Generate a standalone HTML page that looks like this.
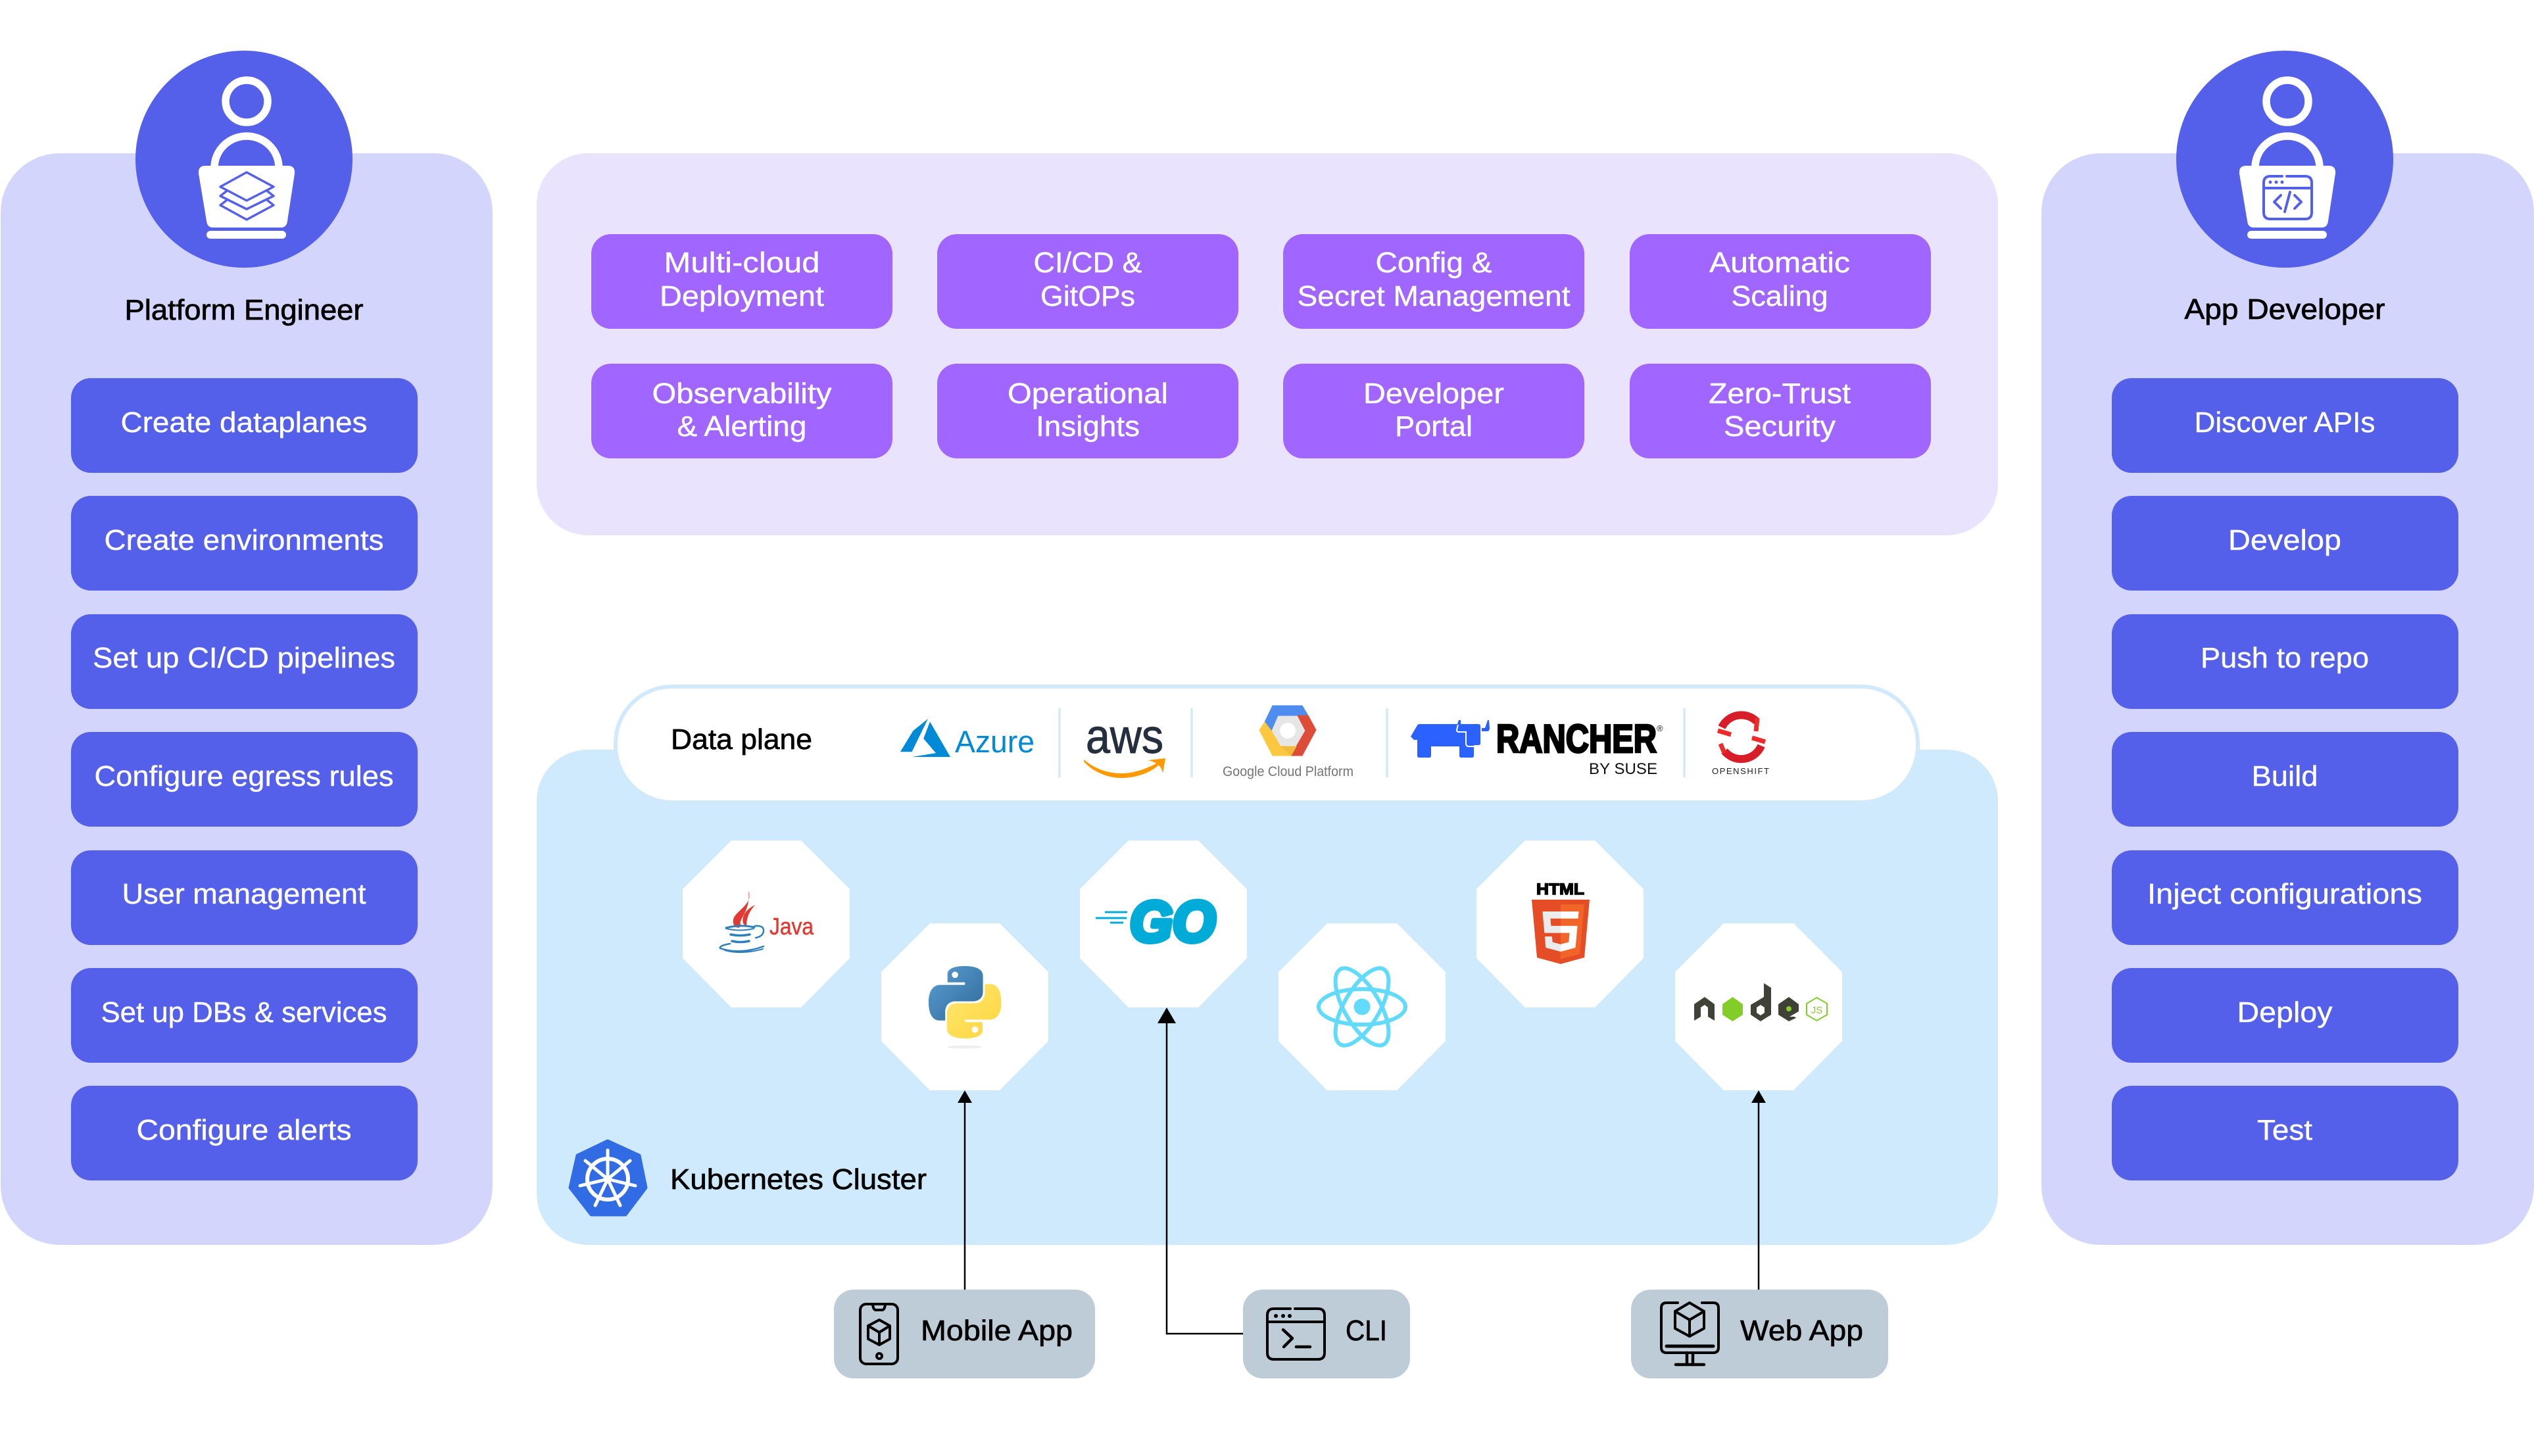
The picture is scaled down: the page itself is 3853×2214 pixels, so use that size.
<!DOCTYPE html>
<html lang="en"><head><meta charset="utf-8"><title>Platform diagram</title>
<style>html,body{margin:0;padding:0;background:#fff}svg{display:block}text{font-family:"Liberation Sans",sans-serif}</style></head>
<body>
<svg xmlns="http://www.w3.org/2000/svg" width="3853" height="2214" viewBox="0 0 3853 2214">
<defs>
<linearGradient id="pb" x1="0" y1="0" x2="1" y2="1"><stop offset="0" stop-color="#5a9fd4"/><stop offset="1" stop-color="#306998"/></linearGradient>
<linearGradient id="py" x1="1" y1="1" x2="0" y2="0"><stop offset="0" stop-color="#ffd43b"/><stop offset="1" stop-color="#ffe873"/></linearGradient>
</defs>
<rect width="3853" height="2214" fill="#fff"/>

<!-- panels -->
<rect x="1" y="233" width="748" height="1660" rx="90" fill="#d4d5fd"/>
<rect x="3104" y="233" width="749" height="1660" rx="90" fill="#d4d5fd"/>
<rect x="816" y="233" width="2222" height="581" rx="78" fill="#eae3fd"/>
<rect x="816" y="1140" width="2222" height="753" rx="78" fill="#cfe9fd"/>

<!-- persona circles -->
<circle cx="371" cy="242" r="165" fill="#5560ea"/>
<circle cx="3474" cy="242" r="165" fill="#5560ea"/>
<g fill="none" stroke="#fff" stroke-width="11.5">
<circle cx="375" cy="154" r="32"/><path d="M326 256V255A49 48 0 0 1 424 255V256"/>
<circle cx="3478" cy="154" r="32"/><path d="M3429 256V255A49 48 0 0 1 3527 255V256"/>
</g>
<g fill="#fff">
<path d="M312 252H438Q449 252 448 264L437 336Q436 346 427 346H324Q315 346 314 336L302 264Q301 252 312 252Z"/>
<rect x="314" y="351" width="121" height="12" rx="6"/>
<path d="M3415 252H3541Q3552 252 3551 264L3540 336Q3539 346 3530 346H3427Q3418 346 3417 336L3405 264Q3404 252 3415 252Z"/>
<rect x="3417" y="351" width="121" height="12" rx="6"/>
</g>
<g fill="none" stroke="#5560ea" stroke-width="3.5" stroke-linejoin="round" stroke-linecap="round">
<path d="M375 262L416 284L375 305L335 284Z"/>
<path d="M344 291L335 298L375 318L416 298L407 291"/>
<path d="M344 305L335 312L375 334L416 312L407 305"/>
</g>
<g fill="none" stroke="#5560ea" stroke-width="4" stroke-linecap="round" stroke-linejoin="round">
<path d="M3470 268H3452Q3442 268 3442 278V323Q3442 333 3452 333H3505Q3515 333 3515 323V278Q3515 268 3505 268H3477"/>
<path d="M3442 286H3515"/>
<path d="M3468 297L3458 307L3468 317M3489 297L3499 307L3489 317M3482 292L3474 322"/>
</g>
<g fill="#5560ea"><circle cx="3452" cy="277" r="2.5"/><circle cx="3461" cy="277" r="2.5"/><circle cx="3470" cy="277" r="2.5"/></g>

<!-- headings -->
<g font-size="44" fill="#000" stroke="#000" stroke-width=".8" text-anchor="middle">
<text x="371" y="486" textLength="363" lengthAdjust="spacingAndGlyphs">Platform Engineer</text>
<text x="3474" y="485" textLength="305" lengthAdjust="spacingAndGlyphs">App Developer</text>
</g>

<!-- persona buttons -->
<g fill="#5560ea">
<rect x="108" y="575" width="527" height="144" rx="30"/><rect x="108" y="754" width="527" height="144" rx="30"/><rect x="108" y="934" width="527" height="144" rx="30"/><rect x="108" y="1113" width="527" height="144" rx="30"/><rect x="108" y="1293" width="527" height="144" rx="30"/><rect x="108" y="1472" width="527" height="144" rx="30"/><rect x="108" y="1651" width="527" height="144" rx="30"/>
<rect x="3211" y="575" width="527" height="144" rx="30"/><rect x="3211" y="754" width="527" height="144" rx="30"/><rect x="3211" y="934" width="527" height="144" rx="30"/><rect x="3211" y="1113" width="527" height="144" rx="30"/><rect x="3211" y="1293" width="527" height="144" rx="30"/><rect x="3211" y="1472" width="527" height="144" rx="30"/><rect x="3211" y="1651" width="527" height="144" rx="30"/>
</g>
<g font-size="44" fill="#fff" stroke="#fff" stroke-width=".4" text-anchor="middle">
<text x="371" y="657" textLength="375" lengthAdjust="spacingAndGlyphs">Create dataplanes</text>
<text x="371" y="836" textLength="425" lengthAdjust="spacingAndGlyphs">Create environments</text>
<text x="371" y="1015" textLength="460" lengthAdjust="spacingAndGlyphs">Set up CI/CD pipelines</text>
<text x="371" y="1195" textLength="455" lengthAdjust="spacingAndGlyphs">Configure egress rules</text>
<text x="371" y="1374" textLength="371" lengthAdjust="spacingAndGlyphs">User management</text>
<text x="371" y="1554" textLength="435" lengthAdjust="spacingAndGlyphs">Set up DBs &amp; services</text>
<text x="371" y="1733" textLength="327" lengthAdjust="spacingAndGlyphs">Configure alerts</text>
<text x="3474" y="657" textLength="275" lengthAdjust="spacingAndGlyphs">Discover APIs</text>
<text x="3474" y="836" textLength="172" lengthAdjust="spacingAndGlyphs">Develop</text>
<text x="3474" y="1015" textLength="256" lengthAdjust="spacingAndGlyphs">Push to repo</text>
<text x="3474" y="1195" textLength="101" lengthAdjust="spacingAndGlyphs">Build</text>
<text x="3474" y="1374" textLength="418" lengthAdjust="spacingAndGlyphs">Inject configurations</text>
<text x="3474" y="1554" textLength="145" lengthAdjust="spacingAndGlyphs">Deploy</text>
<text x="3474" y="1733" textLength="84" lengthAdjust="spacingAndGlyphs">Test</text>
</g>

<!-- feature buttons -->
<g fill="#a066ff">
<rect x="899" y="356" width="458" height="144" rx="30"/><rect x="1425" y="356" width="458" height="144" rx="30"/><rect x="1951" y="356" width="458" height="144" rx="30"/><rect x="2478" y="356" width="458" height="144" rx="30"/>
<rect x="899" y="553" width="458" height="144" rx="30"/><rect x="1425" y="553" width="458" height="144" rx="30"/><rect x="1951" y="553" width="458" height="144" rx="30"/><rect x="2478" y="553" width="458" height="144" rx="30"/>
</g>
<g font-size="44" fill="#fff" stroke="#fff" stroke-width=".4" text-anchor="middle">
<text x="1128" y="414" textLength="237" lengthAdjust="spacingAndGlyphs">Multi-cloud</text>
<text x="1128" y="465" textLength="250" lengthAdjust="spacingAndGlyphs">Deployment</text>
<text x="1654" y="414" textLength="165" lengthAdjust="spacingAndGlyphs">CI/CD &amp;</text>
<text x="1654" y="465" textLength="144" lengthAdjust="spacingAndGlyphs">GitOPs</text>
<text x="2180" y="414" textLength="177" lengthAdjust="spacingAndGlyphs">Config &amp;</text>
<text x="2180" y="465" textLength="415" lengthAdjust="spacingAndGlyphs">Secret Management</text>
<text x="2706" y="414" textLength="214" lengthAdjust="spacingAndGlyphs">Automatic</text>
<text x="2706" y="465" textLength="147" lengthAdjust="spacingAndGlyphs">Scaling</text>
<text x="1128" y="613" textLength="273" lengthAdjust="spacingAndGlyphs">Observability</text>
<text x="1128" y="663" textLength="197" lengthAdjust="spacingAndGlyphs">&amp; Alerting</text>
<text x="1654" y="613" textLength="244" lengthAdjust="spacingAndGlyphs">Operational</text>
<text x="1654" y="663" textLength="158" lengthAdjust="spacingAndGlyphs">Insights</text>
<text x="2180" y="613" textLength="214" lengthAdjust="spacingAndGlyphs">Developer</text>
<text x="2180" y="663" textLength="118" lengthAdjust="spacingAndGlyphs">Portal</text>
<text x="2706" y="613" textLength="216" lengthAdjust="spacingAndGlyphs">Zero-Trust</text>
<text x="2706" y="663" textLength="170" lengthAdjust="spacingAndGlyphs">Security</text>
</g>

<!-- data plane pill -->
<rect x="936" y="1044" width="1980" height="176" rx="86" fill="#fff" stroke="#d0e9fd" stroke-width="6"/>
<text x="1020" y="1139" font-size="44" fill="#000" stroke="#000" stroke-width=".7" textLength="215" lengthAdjust="spacingAndGlyphs">Data plane</text>
<g stroke="#d4eafc" stroke-width="3.5"><path d="M1611 1077V1182M1812 1077V1182M2109 1077V1182M2561 1077V1182"/></g>

<!-- azure -->
<path transform="translate(1366 1093) scale(.975 .913)" fill="#0089d6" d="M46.09 0L22.96 20.05L3 55.07H21ZM49.2 4.74L39.2 32.96L58.38 57.06L21.17 63.46H81Z"/>
<text x="1452" y="1144" font-size="47" fill="#0089d6" textLength="121" lengthAdjust="spacingAndGlyphs">Azure</text>

<!-- aws -->
<text x="1651" y="1145" font-size="73" fill="#252f3e" stroke="#252f3e" stroke-width="1" textLength="118" lengthAdjust="spacingAndGlyphs">aws</text>
<path d="M1648 1155C1668 1172 1690 1176 1706 1176C1725 1176 1745 1168 1760 1160L1761 1164C1748 1176 1725 1183 1706 1183C1685 1183 1662 1174 1648 1158Z" fill="#ff9900"/>
<path d="M1746 1156L1772 1153L1768 1176C1766 1165 1760 1160 1746 1156Z" fill="#ff9900"/>

<!-- gcp -->
<polygon points="1943,1088 1973,1088 1985,1111 1971,1135 1947,1135 1933,1111" fill="#e6e6e6"/>
<polygon points="1935,1073 1980,1073 1989,1088 1943,1088 1933,1111 1923,1098" fill="#4f8cef" stroke="#4f8cef" stroke-width="1" stroke-linejoin="round"/>
<polygon points="1973,1088 1989,1088 2001,1110 1980,1149 1963,1149 1971,1135 1985,1111" fill="#dd4b39" stroke="#dd4b39" stroke-width="1" stroke-linejoin="round"/>
<polygon points="1923,1098 1933,1111 1947,1135 1971,1135 1963,1149 1935,1149 1915,1110" fill="#fdc73f" stroke="#fdc73f" stroke-width="1" stroke-linejoin="round"/>
<polygon points="1947,1135 1971,1135 1963,1149" fill="#f0bb3c"/>
<circle cx="1958" cy="1111" r="12" fill="#fff"/>
<text x="1859" y="1180" font-size="21" fill="#757575" textLength="199" lengthAdjust="spacingAndGlyphs">Google Cloud Platform</text>

<!-- rancher -->
<path d="M2145 1120L2155 1103Q2156 1101 2158 1101H2216L2218 1095H2221V1101H2248Q2251 1101 2251 1104V1130Q2251 1133 2248 1133H2241V1149Q2241 1152 2238 1152H2222Q2219 1152 2219 1149V1135H2176V1149Q2176 1152 2173 1152H2158Q2155 1152 2155 1149V1125H2150Z" fill="#2b62ff"/>
<path d="M2253 1107H2258L2262 1095H2264L2265 1107Q2265 1112 2261 1112H2253Z" fill="#2b62ff"/>
<path d="M2217 1102L2215 1110Q2215 1113 2218 1113H2229V1130Q2229 1135 2233 1135H2251" fill="none" stroke="#fff" stroke-width="2"/>
<text x="2275" y="1144" font-size="60" font-weight="700" fill="#000" stroke="#000" stroke-width="3" textLength="244" lengthAdjust="spacingAndGlyphs">RANCHER</text>
<text x="2519" y="1112" font-size="13" fill="#222">®</text>
<text x="2416" y="1177" font-size="24" fill="#111" textLength="104" lengthAdjust="spacing">BY SUSE</text>

<!-- openshift -->
<g fill="none" stroke="#d71e28" stroke-width="12">
<path d="M2618 1106A33 33 0 0 1 2671 1097"/>
<path d="M2678 1134A33 33 0 0 1 2622 1142"/>
</g>
<g fill="none" stroke="#ee2a2a" stroke-width="7">
<path d="M2612 1111L2632 1117"/><path d="M2684 1128L2664 1122"/><path d="M2672 1092L2670 1112"/><path d="M2616 1131L2622 1145"/>
</g>
<text x="2603" y="1177" font-size="13" fill="#222" textLength="87" lengthAdjust="spacing">OPENSHIFT</text>

<!-- octagons -->
<g fill="#fff">
<polygon points="1112,1278 1218,1278 1292,1352 1292,1457 1218,1532 1112,1532 1038,1457 1038,1352"/>
<polygon points="1414,1404 1520,1404 1594,1478 1594,1583 1520,1658 1414,1658 1340,1583 1340,1478"/>
<polygon points="1716,1278 1822,1278 1896,1352 1896,1457 1822,1532 1716,1532 1642,1457 1642,1352"/>
<polygon points="2018,1404 2124,1404 2198,1478 2198,1583 2124,1658 2018,1658 1944,1583 1944,1478"/>
<polygon points="2319,1278 2425,1278 2499,1352 2499,1457 2425,1532 2319,1532 2245,1457 2245,1352"/>
<polygon points="2621,1404 2727,1404 2801,1478 2801,1583 2727,1658 2621,1658 2547,1583 2547,1478"/>
</g>

<!-- java -->
<path d="M1138 1355C1146 1375 1118 1385 1115 1398C1113 1407 1121 1415 1127 1408C1120 1398 1142 1388 1138 1355Z" fill="#e03a33"/>
<path d="M1148 1376C1134 1383 1127 1393 1130 1404L1135 1410C1135 1396 1138 1388 1148 1376Z" fill="#e03a33"/>
<g fill="none" stroke="#2f7fbb" stroke-linecap="round">
<path d="M1104 1411Q1125 1405 1147 1410" stroke-width="3"/>
<path d="M1104 1412Q1125 1417 1146 1412" stroke-width="2"/>
<path d="M1111 1421Q1125 1424 1140 1421" stroke-width="3.5"/>
<path d="M1113 1431Q1125 1434 1139 1431" stroke-width="3.5"/>
<path d="M1110 1435Q1093 1438 1095 1442Q1125 1452 1161 1439" stroke-width="2.5"/>
<path d="M1102 1445Q1128 1452 1160 1443" stroke-width="2"/>
<path d="M1148 1408Q1162 1407 1161 1416Q1160 1424 1149 1426" stroke-width="2.5"/>
</g>
<text x="1170" y="1421" font-size="36" fill="#e03a33" stroke="#e03a33" stroke-width=".5" textLength="67" lengthAdjust="spacingAndGlyphs">Java</text>

<!-- python -->
<g transform="translate(1412 1469)">
<path fill="url(#pb)" d="M54.9 0C27 0 28.7 12.2 28.7 12.2l0 12.6h26.6v3.8H18.1S0 26.5 0 55.1c0 28.6 15.8 27.6 15.8 27.6h9.4V69.4s-.5-15.8 15.6-15.8h26.8s15 .2 15-14.5V14.8S84.9 0 54.9 0zM40.1 8.5a4.8 4.8 0 1 1 0 9.6 4.8 4.8 0 0 1 0-9.6z"/>
<path fill="url(#py)" d="M55.7 110c27.9 0 26.2-12.1 26.2-12.1V85.3H55.3v-3.8h37.2s18 2 18-26.5c0-28.6-15.8-27.6-15.8-27.6h-9.4v13.3s.5 15.8-15.6 15.8H43s-15-.2-15 14.5v24.4S25.7 110 55.7 110zm14.8-8.5a4.8 4.8 0 1 1 0-9.6 4.8 4.8 0 0 1 0 9.6z"/>
</g>
<ellipse cx="1467" cy="1592" rx="26" ry="2.5" fill="#eeeeee"/>

<!-- go -->
<g stroke="#00acd7" stroke-width="3"><path d="M1680 1387H1714M1666 1396H1713M1688 1403H1708"/></g>
<text x="1718" y="1431" font-size="86" font-weight="700" font-style="italic" fill="#00acd7" stroke="#00acd7" stroke-width="8" stroke-linejoin="round" textLength="130" lengthAdjust="spacingAndGlyphs">GO</text>

<!-- react -->
<g fill="none" stroke="#61dafb" stroke-width="6">
<ellipse cx="2071" cy="1531" rx="66" ry="27"/>
<ellipse cx="2071" cy="1531" rx="66" ry="27" transform="rotate(60 2071 1531)"/>
<ellipse cx="2071" cy="1531" rx="66" ry="27" transform="rotate(120 2071 1531)"/>
</g>
<circle cx="2071" cy="1531" r="12.5" fill="#61dafb"/>

<!-- html5 -->
<text x="2372.500" y="1360" font-size="24" font-weight="700" fill="#000" stroke="#000" stroke-width="1.5" text-anchor="middle" textLength="73" lengthAdjust="spacingAndGlyphs">HTML</text>
<g transform="translate(2310.9 1344) scale(.2426 .238)">
<path fill="#e44d26" d="M107.644 470.877L74.633 100.62h362.734l-33.046 370.199L255.778 512z"/>
<path fill="#f16529" d="M256 480.523l120.03-33.277 28.24-316.352H256z"/>
<path fill="#ebebeb" d="M256 268.217h-60.09l-4.15-46.501H256v-45.411H142.132l1.087 12.183 11.161 125.139H256zM256 386.153l-.199.053-50.574-13.656-3.233-36.217h-45.585l6.362 71.301 93.02 25.823.209-.058z"/>
<path fill="#fff" d="M255.843 268.217v45.41h55.918l-5.271 58.894-50.647 13.67v47.244l93.094-25.801.683-7.672 10.671-119.551 1.108-12.194h-12.237zM255.843 176.305v45.411h109.688l.911-10.207 2.069-23.021 1.086-12.183z"/>
</g>

<!-- node -->
<polygon points="2576,1527 2592,1516 2607,1527 2607,1552 2597,1546 2597,1532 2592,1528 2586,1532 2586,1546 2576,1552" fill="#404137"/>
<polygon points="2619,1527 2634.5,1516 2650,1527 2650,1543 2634.5,1553 2619,1543" fill="#83cd29"/>
<polygon points="2662,1528 2682,1516 2682,1495 2693,1502 2693,1543 2677,1553 2662,1543" fill="#404137"/>
<polygon points="2677,1528 2683,1532 2683,1540 2677,1544 2671,1540 2671,1532" fill="#fff"/>
<polygon points="2704,1527 2720,1516 2735,1527 2735,1538 2721,1546 2735,1546 2720,1553 2704,1543" fill="#404137"/>
<polygon points="2735,1538 2725,1544 2735,1550" fill="#fff"/>
<circle cx="2720" cy="1534" r="4" fill="#83cd29"/>
<polygon points="2762.500,1517 2778,1526 2778,1543 2762.500,1552 2747,1543 2747,1526" fill="none" stroke="#83cd29" stroke-width="2"/>
<text x="2762.500" y="1541" font-size="15" fill="#83cd29" text-anchor="middle">JS</text>

<!-- k8s -->
<polygon points="924,1735 972,1757 982,1806 951,1847 899,1847 867,1806 878,1757" fill="#326ce5" stroke="#326ce5" stroke-width="5" stroke-linejoin="round"/>
<circle cx="924" cy="1793" r="31" fill="none" stroke="#fff" stroke-width="6"/>
<circle cx="924" cy="1793" r="6" fill="#fff"/>
<g stroke="#fff" stroke-width="5" stroke-linecap="round">
<path d="M924 1793V1749M924 1793L958 1765M924 1793L966 1803M924 1793L943 1833M924 1793L905 1833M924 1793L882 1803M924 1793L890 1765"/>
</g>
<text x="1019" y="1808" font-size="44" fill="#000" stroke="#000" stroke-width=".7" textLength="390" lengthAdjust="spacingAndGlyphs">Kubernetes Cluster</text>

<!-- connectors -->
<g fill="none" stroke="#000" stroke-width="2.5">
<path d="M1467 1674V1961"/>
<path d="M1774 1550V2028H1893"/>
<path d="M2674 1674V1961"/>
</g>
<polygon points="1467,1658 1478,1677 1456,1677" fill="#000"/>
<polygon points="1774,1532 1788,1556 1760,1556" fill="#000"/>
<polygon points="2674,1658 2685,1677 2663,1677" fill="#000"/>

<!-- client boxes -->
<g fill="#bdccd6">
<rect x="1268" y="1961" width="397" height="135" rx="30"/>
<rect x="1890" y="1961" width="254" height="135" rx="30"/>
<rect x="2480" y="1961" width="391" height="135" rx="30"/>
</g>
<g fill="none" stroke="#000" stroke-width="4" stroke-linecap="round" stroke-linejoin="round">
<rect x="1308" y="1983" width="57" height="91" rx="9"/>
<path d="M1327 1984Q1328 1992 1332 1992H1341Q1345 1992 1346 1984"/>
<polygon points="1337,2007 1353,2016 1353,2036 1337,2045 1320,2036 1320,2016"/>
<path d="M1320 2016L1337 2026L1353 2016M1337 2026V2045"/>
<circle cx="1337" cy="2062" r="4"/>
<path d="M1962 1990H1937Q1927 1990 1927 2000V2057Q1927 2067 1937 2067H2004Q2014 2067 2014 2057V2000Q2014 1990 2004 1990H1969"/>
<path d="M1927 2010H2014"/>
<path d="M1951 2022L1965 2035L1952 2048" stroke-width="4.500"/>
<path d="M1971 2048H1992" stroke-width="4.500"/>
<path d="M2551 1981H2534Q2526 1981 2526 1989V2049Q2526 2057 2534 2057H2605Q2613 2057 2613 2049V1989Q2613 1981 2605 1981H2588"/>
<path d="M2534 2047H2605" stroke-width="5"/>
<path d="M2565 2057V2075M2574 2057V2075M2548 2075H2591" stroke-width="4.500"/>
<polygon points="2569,1981 2591,1994 2591,2020 2569,2032 2547,2020 2547,1994"/>
<path d="M2547 1994L2569 2007L2591 1994M2569 2007V2032"/>
</g>
<g fill="#000"><circle cx="1940" cy="2001" r="3"/><circle cx="1951" cy="2001" r="3"/><circle cx="1961" cy="2001" r="3"/></g>
<g font-size="44" fill="#000" stroke="#000" stroke-width=".7">
<text x="1400" y="2038" textLength="231" lengthAdjust="spacingAndGlyphs">Mobile App</text>
<text x="2046" y="2038" textLength="63" lengthAdjust="spacingAndGlyphs">CLI</text>
<text x="2646" y="2038" textLength="187" lengthAdjust="spacingAndGlyphs">Web App</text>
</g>
</svg>
</body></html>
